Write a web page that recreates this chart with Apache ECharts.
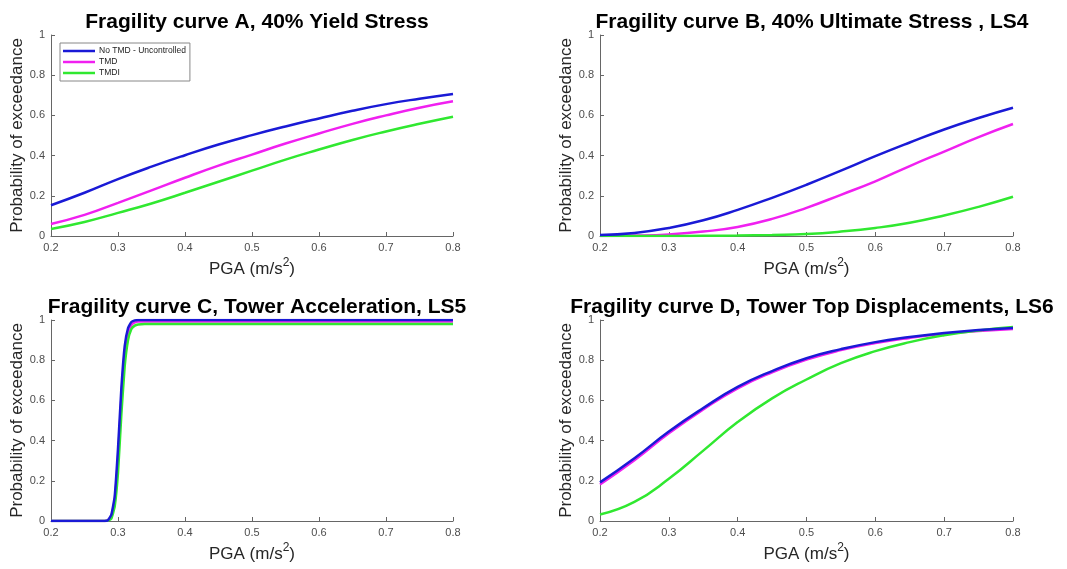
<!DOCTYPE html>
<html><head><meta charset="utf-8">
<script src="https://cdn.jsdelivr.net/npm/echarts@6/dist/echarts.min.js"></script>
<style>html,body{margin:0;padding:0;background:#fff}#c{width:1067px;height:569px}</style>
</head><body><div id="c"></div>
<script>
// ---- data ----
const seriesNames = ['No TMD - Uncontrolled', 'TMD', 'TMDI'];
const pga = [0.2, 0.25, 0.3, 0.35, 0.4, 0.45, 0.5, 0.55, 0.6, 0.65, 0.7, 0.75, 0.8];

// Panel A: 40% Yield Stress
const aNoTMD = [0.153, 0.215, 0.283, 0.345, 0.402, 0.455, 0.502, 0.545, 0.585, 0.623, 0.656, 0.683, 0.707];
const aTMD   = [0.060, 0.105, 0.165, 0.227, 0.290, 0.350, 0.405, 0.460, 0.510, 0.558, 0.600, 0.638, 0.670];
const aTMDI  = [0.035, 0.070, 0.115, 0.162, 0.215, 0.270, 0.325, 0.380, 0.430, 0.478, 0.520, 0.558, 0.593];

// Panel B: 40% Ultimate Stress, LS4
const bNoTMD = [0.005, 0.015, 0.040, 0.078, 0.130, 0.190, 0.255, 0.325, 0.397, 0.465, 0.530, 0.587, 0.638];
const bTMD   = [0.000, 0.002, 0.008, 0.022, 0.045, 0.085, 0.140, 0.205, 0.272, 0.348, 0.420, 0.492, 0.557];
const bTMDI  = [0.000, 0.000, 0.000, 0.001, 0.002, 0.005, 0.010, 0.022, 0.040, 0.066, 0.102, 0.145, 0.195];

// Panel C: Tower Acceleration, LS5
const cPga   = [0.2, 0.28, 0.285, 0.29, 0.295, 0.3, 0.305, 0.31, 0.315, 0.32, 0.325, 0.33, 0.34, 0.4, 0.5, 0.6, 0.7, 0.8];
const cNoTMD = [0, 0, 0.004, 0.03, 0.12, 0.36, 0.66, 0.87, 0.96, 0.99, 0.998, 1.0, 1.0, 1.0, 1.0, 1.0, 1.0, 1.0];
const cTMD   = [0, 0, 0.003, 0.022, 0.10, 0.31, 0.61, 0.84, 0.94, 0.975, 0.988, 0.992, 0.993, 0.993, 0.993, 0.993, 0.993, 0.993];
const cTMDI  = [0, 0, 0.002, 0.012, 0.07, 0.24, 0.53, 0.77, 0.90, 0.955, 0.972, 0.978, 0.98, 0.98, 0.98, 0.98, 0.98, 0.98];

// Panel D: Tower Top Displacements, LS6
const dNoTMD = [0.192, 0.312, 0.445, 0.562, 0.667, 0.746, 0.810, 0.855, 0.890, 0.915, 0.935, 0.950, 0.960];
const dTMD   = [0.182, 0.302, 0.436, 0.555, 0.660, 0.740, 0.803, 0.850, 0.885, 0.911, 0.931, 0.945, 0.955];
const dTMDI  = [0.032, 0.095, 0.210, 0.350, 0.492, 0.610, 0.704, 0.785, 0.845, 0.890, 0.924, 0.948, 0.965];

const titles = [
  'Fragility curve A, 40% Yield Stress',
  'Fragility curve B, 40% Ultimate Stress , LS4',
  'Fragility curve C, Tower Acceleration, LS5',
  'Fragility curve D, Tower Top Displacements, LS6'
];
const xTicks = [0.2, 0.3, 0.4, 0.5, 0.6, 0.7, 0.8];
const yTicks = [0, 0.2, 0.4, 0.6, 0.8, 1];

// ---- layout / styling ----
const colors = ['#1a1ad6', '#f020f0', '#30e830'];
const grids = [
  {left: 51, top: 35, width: 402, height: 201},
  {left: 600, top: 35, width: 413, height: 201},
  {left: 51, top: 320, width: 402, height: 201},
  {left: 600, top: 320, width: 413, height: 201}
];
const titlePos = [[252, 7], [807, 7], [252, 292], [807, 292]];
const smoothness = [0.5, 0.5, 0.12, 0.5];
const font = 'Liberation Sans, Arial, sans-serif';

const panels = [
  {x: pga, ys: [aNoTMD, aTMD, aTMDI]},
  {x: pga, ys: [bNoTMD, bTMD, bTMDI]},
  {x: cPga, ys: [cNoTMD, cTMD, cTMDI]},
  {x: pga, ys: [dNoTMD, dTMD, dTMDI]}
];

const axisLine = {show: true, lineStyle: {color: '#666', width: 1}};
const xAxis = [], yAxis = [], series = [];
panels.forEach((p, i) => {
  xAxis.push({
    type: 'value', gridIndex: i, min: 0.2, max: 0.8, interval: 0.1,
    axisLine: axisLine, axisTick: {show: true, inside: true, length: 4, lineStyle: {color: '#666'}},
    splitLine: {show: false},
    axisLabel: {color: '#4d4d4d', fontSize: 11, fontFamily: font, margin: 6,
      formatter: v => { const t = xTicks.find(k => Math.abs(k - v) < 1e-6); return t === undefined ? '' : String(t); }},
    name: '{a|PGA (m/s}{s|2}{a|)}', nameLocation: 'middle', nameGap: 23,
    nameTextStyle: {rich: {
      a: {fontSize: 17, color: '#262626', fontFamily: font, lineHeight: 20},
      s: {fontSize: 12, color: '#262626', fontFamily: font, lineHeight: 20, padding: [0, 0, 12, 0]}
    }}
  });
  yAxis.push({
    type: 'value', gridIndex: i, min: 0, max: 1, interval: 0.2,
    axisLine: axisLine, axisTick: {show: true, inside: true, length: 4, lineStyle: {color: '#666'}},
    splitLine: {show: false},
    axisLabel: {color: '#4d4d4d', fontSize: 11, fontFamily: font, margin: 6,
      formatter: v => { const t = yTicks.find(k => Math.abs(k - v) < 1e-6); return t === undefined ? '' : String(t); }},
    name: 'Probability of exceedance', nameLocation: 'middle', nameGap: 23,
    nameTextStyle: {fontSize: 17, color: '#262626', fontFamily: font}
  });
  // draw order: TMD, TMDI, then No TMD on top
  [1, 2, 0].forEach(k => {
    series.push({
      name: seriesNames[k], type: 'line', xAxisIndex: i, yAxisIndex: i,
      data: p.x.map((xv, j) => [xv, p.ys[k][j]]),
      smooth: smoothness[i], showSymbol: false, symbol: 'none',
      lineStyle: {color: colors[k], width: 2.5}, itemStyle: {color: colors[k]},
      z: k === 0 ? 4 : 3, animation: false
    });
  });
});

const option = {
  backgroundColor: '#fff',
  animation: false,
  title: titles.map((t, i) => ({
    text: t, left: titlePos[i][0], top: titlePos[i][1], textAlign: 'center',
    textStyle: {fontSize: 21, fontWeight: 'bold', color: '#000', fontFamily: font}
  })),
  legend: {
    data: seriesNames, orient: 'vertical', left: 60, top: 43,
    padding: [3, 4, 3, 3], itemGap: 1, itemWidth: 32, itemHeight: 2.5, icon: 'rect',
    borderColor: '#888', borderWidth: 1, backgroundColor: '#fff',
    textStyle: {fontSize: 8.5, color: '#222', fontFamily: font, lineHeight: 10, padding: [0, 0, 0, -1]},
    selectedMode: false
  },
  grid: grids,
  xAxis: xAxis,
  yAxis: yAxis,
  series: series
};
echarts.init(document.getElementById('c'), null, {renderer: 'canvas'}).setOption(option);
</script>
</body></html>
